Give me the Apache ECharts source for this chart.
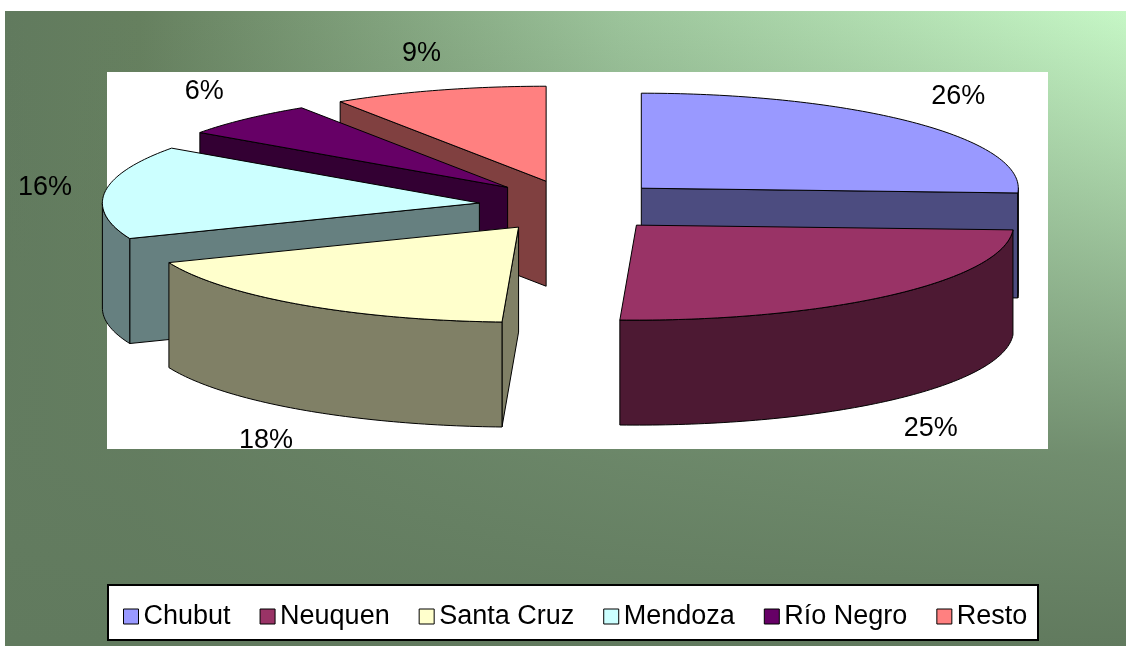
<!DOCTYPE html>
<html>
<head>
<meta charset="utf-8">
<title>Participación por provincia</title>
<script src="https://cdn.jsdelivr.net/npm/echarts@6/dist/echarts.min.js"></script>
<style>
  html, body { margin: 0; padding: 0; background: #fff; }
  #chart { width: 1126px; height: 646px; }
</style>
</head>
<body>
<div id="chart"></div>
<script>
// datos
const provinces = ["Chubut", "Neuquen", "Santa Cruz", "Mendoza", "Río Negro", "Resto"];
const shares = [25.8, 24.9, 18.2, 15.9, 6.0, 9.2];
const pctLabels = ["26%", "25%", "18%", "16%", "6%", "9%"];

// colores (cara superior / laterales)
const topColors = ["#9999ff", "#993366", "#ffffcc", "#ccffff", "#660066", "#ff8080"];
const sideColors = ["#4c4c80", "#4d1933", "#808066", "#668080", "#330033", "#804040"];

// geometria de la torta 3D
const pie = {
  cx: 573, cy: 206,
  rx: 377, ry: 95,
  depth: 105,
  explodeX: 0.25, explodeY: 0.272,
  labelX: 1.16, labelY: 1.40,
};

const RAD = Math.PI / 180;
const total = shares.reduce((a, b) => a + b, 0);
const slices = [];
let acc = 0;
shares.forEach((v) => {
  const a0 = (acc / total) * 360;
  acc += v;
  const a1 = (acc / total) * 360;
  const mid = ((a0 + a1) / 2) * RAD;
  slices.push({
    a0: a0,
    a1: a1,
    mid: mid,
    ox: pie.cx + pie.explodeX * pie.rx * Math.sin(mid),
    oy: pie.cy - pie.explodeY * pie.ry * Math.cos(mid),
  });
});
// de atras hacia adelante
const order = slices.map((s, i) => i).sort((a, b) => slices[a].oy - slices[b].oy);

const edge = { stroke: "#000", lineWidth: 1, lineJoin: "round" };

function renderSlice(params, api) {
  const i = params.seriesIndex;
  const s = slices[i];
  const base = order.indexOf(i) * 10;
  const T = pie.depth;
  const pt = (deg, dy) => [
    s.ox + pie.rx * Math.sin(deg * RAD),
    s.oy - pie.ry * Math.cos(deg * RAD) + (dy || 0),
  ];
  const arc = (from, to, dy) => {
    const n = Math.max(2, Math.ceil(to - from));
    const out = [];
    for (let k = 0; k <= n; k++) out.push(pt(from + ((to - from) * k) / n, dy));
    return out;
  };
  const topColor = api.visual("color");
  const side = sideColors[i];
  const children = [];

  // caras radiales visibles
  const faces = [
    [s.a0, Math.sin(s.a0 * RAD) < -1e-6],
    [s.a1, Math.sin(s.a1 * RAD) > 1e-6],
  ];
  faces.forEach(([a, visible]) => {
    if (!visible) return;
    const e = pt(a);
    children.push({
      type: "polygon",
      z2: base + 1,
      shape: { points: [[s.ox, s.oy], e, [e[0], e[1] + T], [s.ox, s.oy + T]] },
      style: Object.assign({ fill: side }, edge),
    });
  });

  // pared exterior (mitad delantera)
  const w0 = Math.max(s.a0, 90);
  const w1 = Math.min(s.a1, 270);
  if (w1 > w0) {
    const upper = arc(w0, w1, 0);
    const lower = arc(w0, w1, T).reverse();
    children.push({
      type: "polygon",
      z2: base + 2,
      shape: { points: upper.concat(lower) },
      style: Object.assign({ fill: side }, edge),
    });
  }

  // cara superior
  children.push({
    type: "polygon",
    z2: base + 3,
    shape: { points: [[s.ox, s.oy]].concat(arc(s.a0, s.a1, 0)) },
    style: Object.assign({ fill: topColor }, edge),
  });

  // etiqueta
  const lx = s.ox + pie.labelX * pie.rx * Math.sin(s.mid);
  let ly = s.oy - pie.labelY * pie.ry * Math.cos(s.mid);
  if (Math.cos(s.mid) < 0) ly += T;
  children.push({
    type: "text",
    z2: 500,
    style: {
      text: pctLabels[i],
      x: lx,
      y: ly,
      align: "center",
      verticalAlign: "middle",
      fill: "#000",
      fontSize: 27,
      fontFamily: "Liberation Sans, Arial, sans-serif",
    },
  });

  return { type: "group", children: children };
}

const chart = echarts.init(document.getElementById("chart"));

const option = {
  animation: false,
  graphic: [
    {
      type: "rect",
      z: -10,
      shape: { x: 5, y: 11, width: 1121, height: 635 },
      style: {
        fill: new echarts.graphic.LinearGradient(0, 0, 1, 0, [
          { offset: 0, color: "#617a5e" },
          { offset: 0.12, color: "#66805f" },
          { offset: 0.55, color: "#9cc49b" },
          { offset: 1, color: "#c6f7c6" },
        ]),
      },
    },
    {
      type: "rect",
      z: -9,
      shape: { x: 5, y: 11, width: 1121, height: 635 },
      style: {
        fill: new echarts.graphic.LinearGradient(0, 0, 0, 1, [
          { offset: 0, color: "rgba(99,124,96,0)" },
          { offset: 0.7, color: "rgba(99,124,96,0.85)" },
          { offset: 1, color: "rgba(97,122,94,1)" },
        ]),
      },
    },
    {
      type: "rect",
      z: -8,
      shape: { x: 107, y: 72, width: 941, height: 377 },
      style: { fill: "#fff" },
    },
    {
      type: "rect",
      z: -8,
      shape: { x: 108, y: 585, width: 930, height: 55 },
      style: { fill: "#fff", stroke: "#000", lineWidth: 2 },
    },
  ],
  legend: {
    data: provinces,
    left: 118,
    top: 598,
    icon: "rect",
    itemWidth: 15,
    itemHeight: 15,
    itemGap: 29,
    itemStyle: { borderColor: "#000", borderWidth: 1 },
    textStyle: {
      color: "#000",
      fontSize: 27,
      fontFamily: "Liberation Sans, Arial, sans-serif",
    },
    selectedMode: false,
  },
  series: provinces.map((name, i) => ({
    type: "custom",
    name: name,
    coordinateSystem: "none",
    itemStyle: { color: topColors[i] },
    renderItem: renderSlice,
    data: [[shares[i]]],
  })),
};

chart.setOption(option);
</script>
</body>
</html>
